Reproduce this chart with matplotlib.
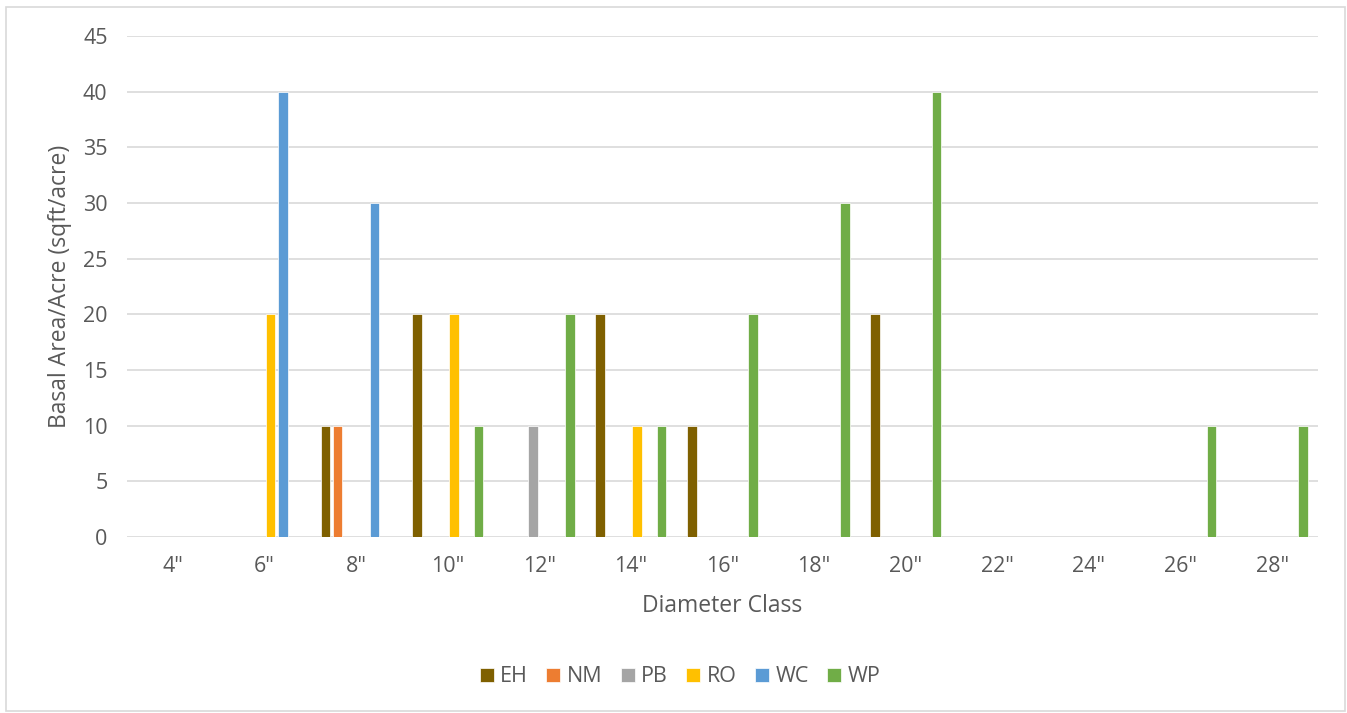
import numpy as np
import matplotlib.pyplot as plt
from matplotlib.patches import Rectangle

# diameter classes and basal area per species
classes = ['4"', '6"', '8"', '10"', '12"', '14"', '16"', '18"', '20"', '22"', '24"', '26"', '28"']
species = ['EH', 'NM', 'PB', 'RO', 'WC', 'WP']
eh = [0, 0, 10, 20, 0, 20, 10, 0, 20, 0, 0, 0, 0]
nm = [0, 0, 10, 0, 0, 0, 0, 0, 0, 0, 0, 0, 0]
pb = [0, 0, 0, 0, 10, 0, 0, 0, 0, 0, 0, 0, 0]
ro = [0, 20, 0, 20, 0, 10, 0, 0, 0, 0, 0, 0, 0]
wc = [0, 40, 30, 0, 0, 0, 0, 0, 0, 0, 0, 0, 0]
wp = [0, 0, 0, 10, 20, 10, 20, 30, 40, 0, 0, 10, 10]
colors = ['#7F6000', '#ED7D31', '#A5A5A5', '#FFC000', '#5B9BD5', '#70AD47']

plt.rcParams['font.family'] = ['Open Sans', 'DejaVu Sans']
txt = '#595959'

fig = plt.figure(figsize=(13.47, 7.13), dpi=100)
ax = fig.add_axes([127 / 1347, 1 - 537 / 713, 1191 / 1347, 501 / 713])

ind = np.arange(len(classes))
step = 0.134
width = 0.104
for i, (name, vals, c) in enumerate(zip(species, [eh, nm, pb, ro, wc, wp], colors)):
    ax.bar(ind + (i - 2.5) * step, vals, width, color=c, label=name,
           edgecolor='white', linewidth=0.5, zorder=3)

ax.set_xlim(-0.5, len(classes) - 0.5)
ax.set_ylim(0, 45)
ax.set_yticks(np.arange(0, 50, 5))
ax.set_xticks(ind)
ax.set_xticklabels(classes)
ax.grid(axis='y', color='#D9D9D9', linewidth=1.2, zorder=0)
for s in ax.spines.values():
    s.set_visible(False)
ax.tick_params(length=0, labelsize=15.5, colors=txt, pad=14)
ax.tick_params(axis='y', pad=14)
ax.set_xlabel('Diameter Class', fontsize=16.5, color=txt, labelpad=12)
ax.set_ylabel('Basal Area/Acre (sqft/acre)', fontsize=16.5, color=txt, labelpad=8)

ax.legend(loc='center', bbox_to_anchor=(680 / 1347, 1 - 677 / 713), bbox_transform=fig.transFigure,
          ncol=6, frameon=False, fontsize=15.5, labelcolor=txt, handlelength=0.65, handleheight=0.65,
          handletextpad=0.3, columnspacing=0.85)

# chart border
fig.patches.append(Rectangle((6 / 1347, 2 / 713), 1339 / 1347, 704 / 713, transform=fig.transFigure,
                             fill=False, edgecolor='#D9D9D9', linewidth=1.2))

plt.savefig('out.png', dpi=100)
